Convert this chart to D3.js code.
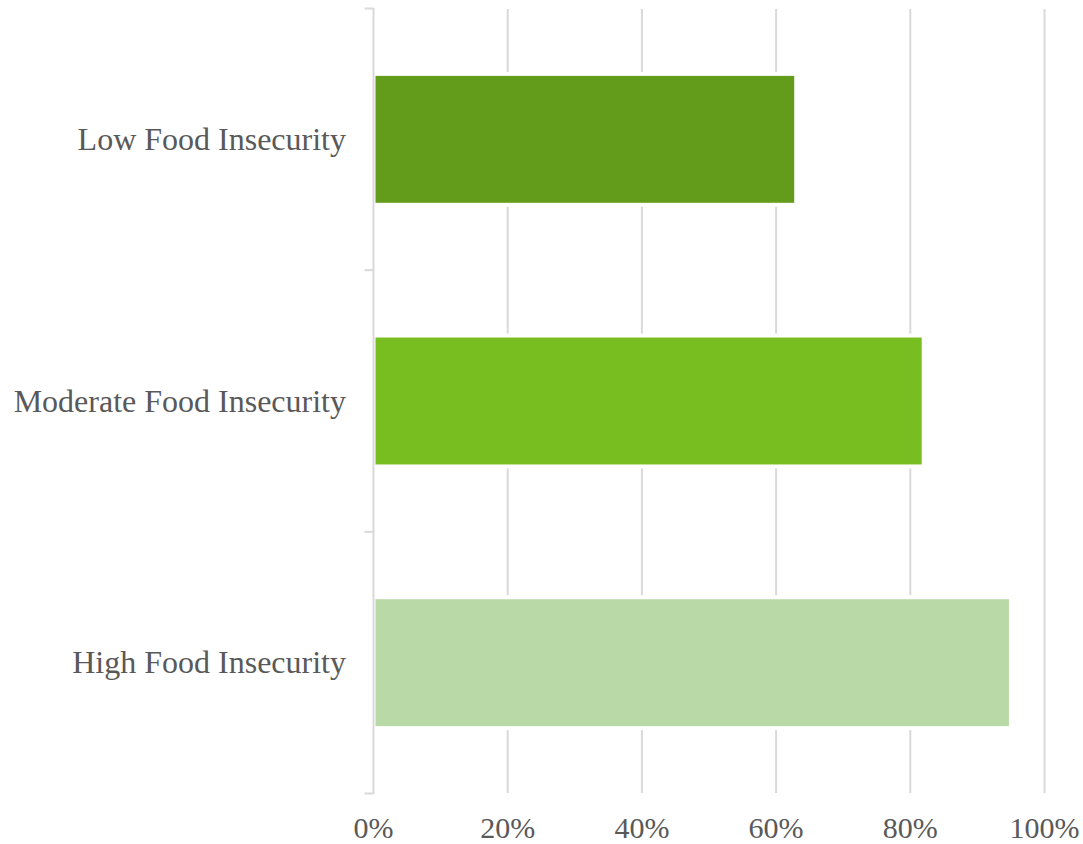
<!DOCTYPE html>
<html><head><meta charset="utf-8">
<script src="https://cdn.jsdelivr.net/npm/d3@7"></script>
<style>body{margin:0;background:#fff}svg{display:block}</style>
</head><body>
<script>
const categories = ["Low Food Insecurity", "Moderate Food Insecurity", "High Food Insecurity"];
const values = [0.627, 0.817, 0.947];
const colors = ["#639B1A", "#78BE21", "#B9D9A6"];
const xTicks = [0, 0.2, 0.4, 0.6, 0.8, 1.0];

const W = 1083, H = 844;
const svg = d3.select("body").append("svg").attr("width", W).attr("height", H);
const x = d3.scaleLinear().domain([0, 1]).range([373.5, 1044.5]);
const y = d3.scaleBand().domain(categories).range([8.5, 793.5]).padding(0);
const font = "'Liberation Serif','Times New Roman',serif";

// gridlines
svg.append("g").selectAll("line").data(xTicks.slice(1)).join("line")
  .attr("x1", d => x(d)).attr("x2", d => x(d))
  .attr("y1", 9).attr("y2", 793)
  .attr("stroke", "#d9d9d9").attr("stroke-width", 2);

const bh = y.bandwidth() * 0.485;
const bars = svg.append("g");
bars.selectAll("rect.bg").data(categories).join("rect").attr("class","bg")
  .attr("x", x(0)).attr("y", d => y(d) + (y.bandwidth() - bh) / 2 - 4)
  .attr("width", (d, i) => x(values[i]) - x(0) + 4).attr("height", bh + 8)
  .attr("fill", "#fff");
bars.selectAll("rect.bar").data(categories).join("rect").attr("class","bar")
  .attr("x", x(0) + 2).attr("y", d => y(d) + (y.bandwidth() - bh) / 2)
  .attr("width", (d, i) => x(values[i]) - x(0) - 2).attr("height", bh)
  .attr("fill", (d, i) => colors[i]);

// y axis line and ticks
const bounds = [8.5, ...categories.map(c => y(c) + y.bandwidth())];
svg.append("line").attr("x1", x(0)).attr("x2", x(0)).attr("y1", 8).attr("y2", 794)
  .attr("stroke", "#d9d9d9").attr("stroke-width", 2);
svg.append("g").selectAll("line").data(bounds).join("line")
  .attr("x1", x(0) - 9).attr("x2", x(0)).attr("y1", d => d).attr("y2", d => d)
  .attr("stroke", "#d9d9d9").attr("stroke-width", 2);

// category labels
svg.append("g").selectAll("text").data(categories).join("text")
  .attr("x", 346).attr("y", d => y(d) + y.bandwidth() / 2)
  .attr("dy", "0.33em").attr("text-anchor", "end")
  .attr("font-family", font).attr("font-size", 32).attr("fill", "#595959")
  .text(d => d);

// x tick labels
svg.append("g").selectAll("text").data(xTicks).join("text")
  .attr("x", d => x(d)).attr("y", 838).attr("text-anchor", "middle")
  .attr("font-family", font).attr("font-size", 30).attr("fill", "#595959")
  .text(d => d3.format(".0%")(d));
</script>
</body></html>
